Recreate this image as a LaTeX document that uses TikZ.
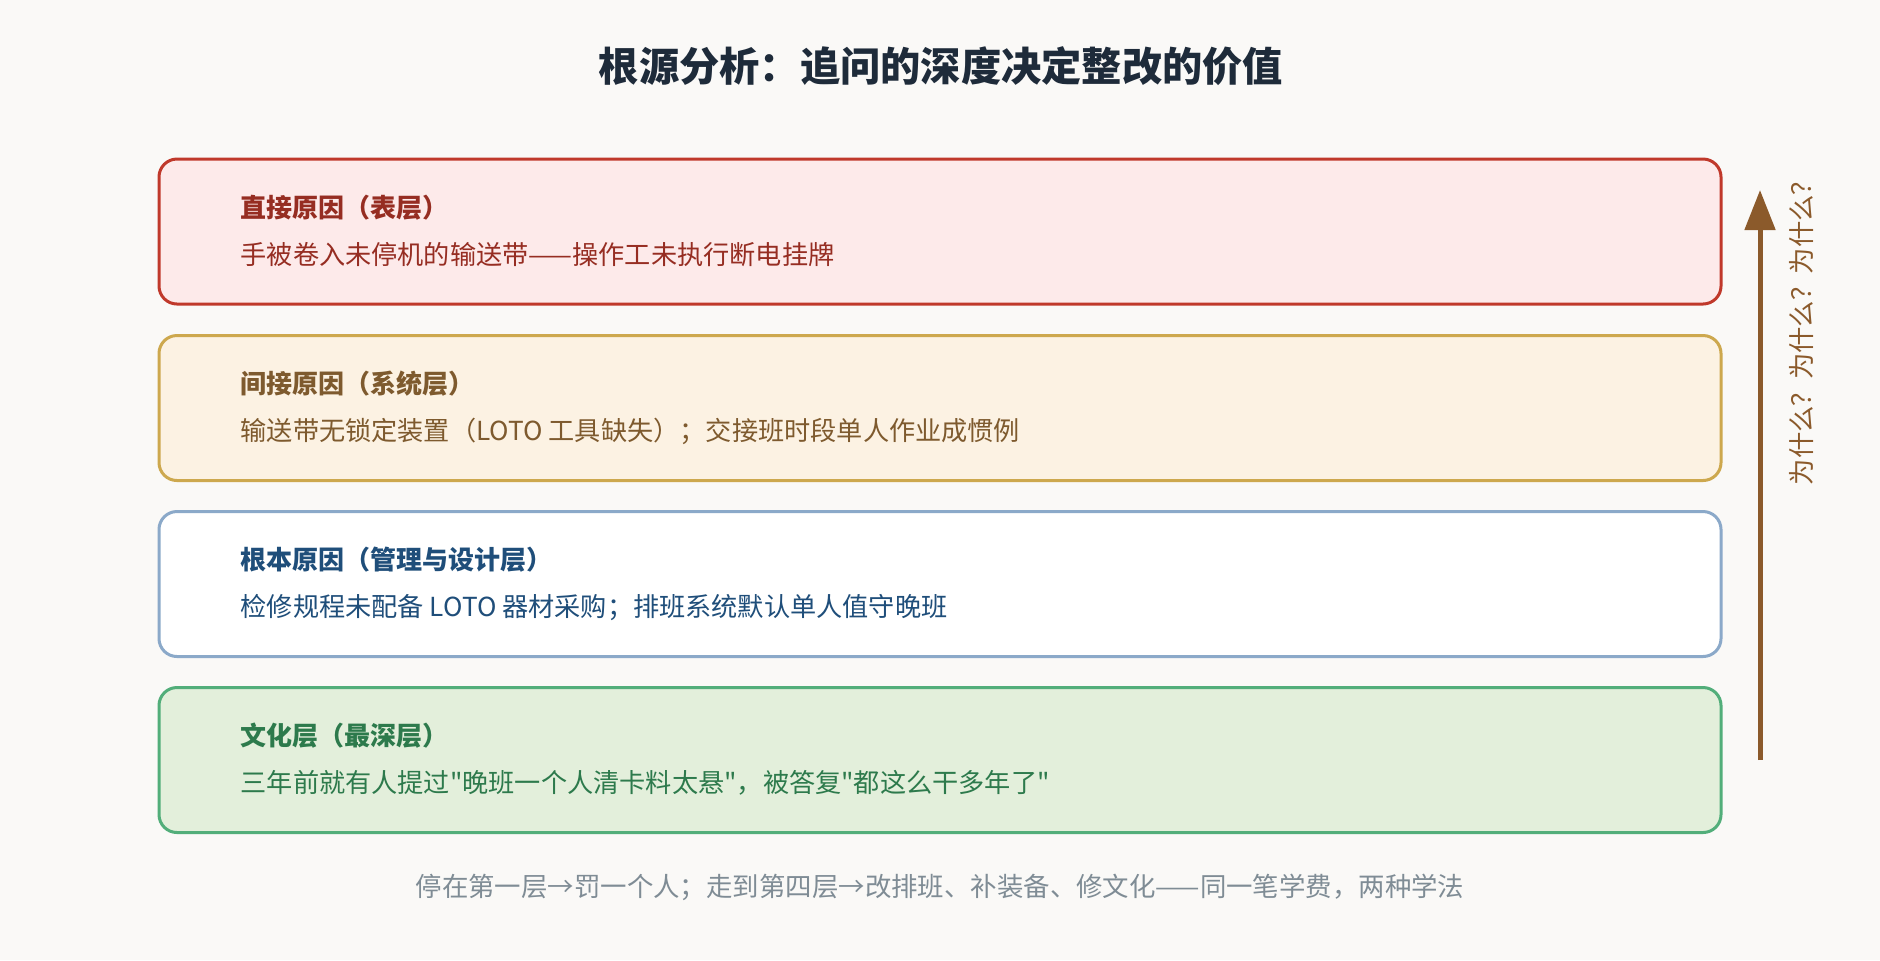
\documentclass[tikz,border=0pt]{standalone}
\usepackage{fontspec}
\newfontfamily\cjk{Noto Sans CJK SC}
\usepackage{xcolor}
\usepackage{tikz}
\usetikzlibrary{positioning,arrows.meta}
\definecolor{PageBG}{HTML}{FAF9F7}
\definecolor{TitleInk}{HTML}{1E2B3A}
\definecolor{RedLine}{HTML}{C0392B}
\definecolor{RedFill}{HTML}{FDEAEA}
\definecolor{RedInk}{HTML}{962D22}
\definecolor{GoldLine}{HTML}{CDA84E}
\definecolor{GoldFill}{HTML}{FCF2E3}
\definecolor{GoldInk}{HTML}{7E5A2E}
\definecolor{BlueLine}{HTML}{8BA9C9}
\definecolor{BlueInk}{HTML}{1F4E7A}
\definecolor{GreenLine}{HTML}{52AE7A}
\definecolor{GreenFill}{HTML}{E3EFDB}
\definecolor{GreenInk}{HTML}{2D7A4C}
\definecolor{WhyBrown}{HTML}{8B5A2B}
\definecolor{NoteGray}{HTML}{7F8C95}

\begin{document}
\begin{tikzpicture}[
    % Style khung tầng
    layerbox/.style={rectangle, rounded corners=0.18cm, line width=0.03cm, minimum width=15.62cm, minimum height=1.45cm, inner sep=0pt},
    % Style chữ trong khung
    headtext/.style={anchor=west, inner sep=0pt, font=\cjk\fontsize{7.4}{9}\selectfont\bfseries},
    bodytext/.style={anchor=west, inner sep=0pt, font=\cjk\fontsize{7.45}{9}\selectfont},
    % Style mũi tên và nhãn
    whyarrow/.style={-{Triangle[length=0.40cm, width=0.30cm]}, draw=WhyBrown, line width=0.05cm},
    whylabel/.style={rotate=90, text=WhyBrown, inner sep=0pt, font=\cjk\fontsize{7.5}{9}\selectfont},
    notetext/.style={text=NoteGray, inner sep=0pt, font=\cjk\fontsize{7.52}{9}\selectfont}
  ]
  % --- NỀN ---
  \fill[PageBG] (0,0) rectangle (18.8,-9.6);
  \useasboundingbox (0,0) rectangle (18.8,-9.6);

  % Tiêu đề
  \node[text=TitleInk, inner sep=0pt, font=\cjk\fontsize{11.45}{14}\selectfont\bfseries] (title) at (9.41,-0.66) {根源分析：追问的深度决定整改的价值};

  % --- CÁC TẦNG ---
  % Tầng 1: trực tiếp
  \node[layerbox, draw=RedLine, fill=RedFill] (l1box) at (9.40,-2.315) {};
  \node[headtext, text=RedInk] (l1head) at (2.40,-2.08) {直接原因（表层）};
  \node[bodytext, text=RedInk] (l1text) at (2.40,-2.55) {手被卷入未停机的输送带——操作工未执行断电挂牌};

  % Tầng 2: hệ thống
  \node[layerbox, draw=GoldLine, fill=GoldFill] (l2box) at (9.40,-4.08) {};
  \node[headtext, text=GoldInk] (l2head) at (2.40,-3.84) {间接原因（系统层）};
  \node[bodytext, text=GoldInk] (l2text) at (2.40,-4.31) {输送带无锁定装置（LOTO 工具缺失）；交接班时段单人作业成惯例};

  % Tầng 3: quản lý
  \node[layerbox, draw=BlueLine, fill=white] (l3box) at (9.40,-5.84) {};
  \node[headtext, text=BlueInk] (l3head) at (2.40,-5.60) {根本原因（管理与设计层）};
  \node[bodytext, text=BlueInk] (l3text) at (2.40,-6.07) {检修规程未配备 LOTO 器材采购；排班系统默认单人值守晚班};

  % Tầng 4: văn hóa
  \node[layerbox, draw=GreenLine, fill=GreenFill] (l4box) at (9.40,-7.60) {};
  \node[headtext, text=GreenInk] (l4head) at (2.40,-7.36) {文化层（最深层）};
  \node[bodytext, text=GreenInk] (l4text) at (2.40,-7.83) {三年前就有人提过"晚班一个人清卡料太悬"，被答复"都这么干多年了"};

  % --- MŨI TÊN "TẠI SAO" ---
  \coordinate (whyBot) at (17.60,-7.60);
  \coordinate (whyTop) at (17.60,-1.90);
  \draw[whyarrow] (whyBot) -- (whyTop);
  \node[whylabel] (whyText) at (18.01,-3.27) {为什么？为什么？为什么？};

  % Ghi chú cuối
  \node[notetext] (note) at (9.40,-8.87) {停在第一层→罚一个人；走到第四层→改排班、补装备、修文化——同一笔学费，两种学法};
\end{tikzpicture}
\end{document}
